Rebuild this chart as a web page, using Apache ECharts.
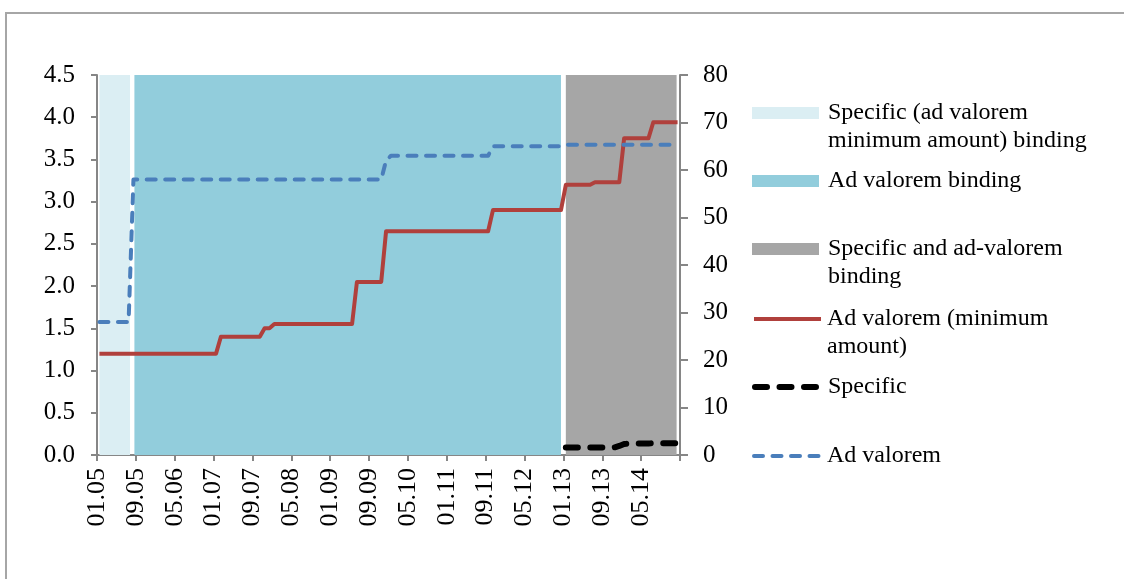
<!DOCTYPE html>
<html><head><meta charset="utf-8">
<script src="https://cdn.jsdelivr.net/npm/echarts@6/dist/echarts.min.js"></script>
<style>html,body{margin:0;padding:0;background:#fff}#c{width:1124px;height:579px}</style>
</head><body><div id="c"></div><script>
// ---- data ----
const xTickLabels = ['01.05','09.05','05.06','01.07','09.07','05.08','01.09','09.09','05.10','01.11','09.11','05.12','01.13','09.13','05.14'];
const bandNames = ['Specific (ad valorem minimum amount) binding','Ad valorem binding','Specific and ad-valorem binding'];
const bandStart = [0.5, 7.7, 96.5];   // months since 01.05
const bandEnd   = [6.8, 95.5, 119.3];
const lineNames = ['Ad valorem (minimum amount)','Specific','Ad valorem'];
// monthly values, Jan 2005 .. Dec 2014 (one row per year)
const adValoremMin = [
  1.2,1.2,1.2,1.2,1.2,1.2,1.2,1.2,1.2,1.2,1.2,1.2,
  1.2,1.2,1.2,1.2,1.2,1.2,1.2,1.2,1.2,1.2,1.2,1.2,
  1.2,1.4,1.4,1.4,1.4,1.4,1.4,1.4,1.4,1.4,1.5,1.5,
  1.55,1.55,1.55,1.55,1.55,1.55,1.55,1.55,1.55,1.55,1.55,1.55,
  1.55,1.55,1.55,1.55,1.55,2.05,2.05,2.05,2.05,2.05,2.05,2.65,
  2.65,2.65,2.65,2.65,2.65,2.65,2.65,2.65,2.65,2.65,2.65,2.65,
  2.65,2.65,2.65,2.65,2.65,2.65,2.65,2.65,2.65,2.9,2.9,2.9,
  2.9,2.9,2.9,2.9,2.9,2.9,2.9,2.9,2.9,2.9,2.9,2.9,
  3.2,3.2,3.2,3.2,3.2,3.2,3.23,3.23,3.23,3.23,3.23,3.23,
  3.75,3.75,3.75,3.75,3.75,3.75,3.94,3.94,3.94,3.94,3.94,3.94
];
const specific = [
  null,null,null,null,null,null,null,null,null,null,null,null,
  null,null,null,null,null,null,null,null,null,null,null,null,
  null,null,null,null,null,null,null,null,null,null,null,null,
  null,null,null,null,null,null,null,null,null,null,null,null,
  null,null,null,null,null,null,null,null,null,null,null,null,
  null,null,null,null,null,null,null,null,null,null,null,null,
  null,null,null,null,null,null,null,null,null,null,null,null,
  null,null,null,null,null,null,null,null,null,null,null,null,
  1.6,1.6,1.6,1.6,1.6,1.6,1.6,1.6,1.6,1.6,1.6,1.9,
  2.3,2.4,2.4,2.4,2.4,2.4,2.5,2.5,2.5,2.5,2.5,2.5
];
const adValorem = [
  28,28,28,28,28,28,28,58,58,58,58,58,
  58,58,58,58,58,58,58,58,58,58,58,58,
  58,58,58,58,58,58,58,58,58,58,58,58,
  58,58,58,58,58,58,58,58,58,58,58,58,
  58,58,58,58,58,58,58,58,58,58,58,62,
  63,63,63,63,63,63,63,63,63,63,63,63,
  63,63,63,63,63,63,63,63,63,65,65,65,
  65,65,65,65,65,65,65,65,65,65,65,65,
  65.3,65.3,65.3,65.3,65.3,65.3,65.3,65.3,65.3,65.3,65.3,65.3,
  65.3,65.3,65.3,65.3,65.3,65.3,65.3,65.3,65.3,65.3,65.3,65.3
];
const leftMax = 4.5, leftStep = 0.5, rightMax = 80, rightStep = 10, monthStep = 8, monthCount = 120;

// ---- styling ----
const FONT = 'Liberation Serif';
const bandColors = ['#dbeef3','#92cddc','#a6a6a6'];
const axisColor = '#868686';
const lineStyles = [
  {color: '#b0403c', width: 4, type: 'solid', cap: 'butt', join: 'round'},
  {color: '#000000', width: 6, type: [12, 12.5], cap: 'round', join: 'round'},
  {color: '#4a7ebb', width: 4, type: [9, 9.5], cap: 'round', join: 'round'}
];
const toPts = arr => arr.map((v, i) => [i + 0.5, v]);

const chart = echarts.init(document.getElementById('c'), null, {renderer: 'canvas'});

const bandSeries = bandNames.map((name, k) => ({
  name, type: 'custom', xAxisIndex: 0, yAxisIndex: 0, silent: true, z: 1,
  itemStyle: {color: bandColors[k]},
  encode: {x: [0, 1]},
  data: [[bandStart[k], bandEnd[k]]],
  renderItem: (params, api) => {
    const p0 = api.coord([api.value(0), leftMax]);
    const p1 = api.coord([api.value(1), 0]);
    return {type: 'rect', shape: {x: p0[0], y: p0[1], width: p1[0] - p0[0], height: p1[1] - p0[1]},
            style: {fill: bandColors[k]}};
  }
}));

const lineData = [adValoremMin, specific, adValorem];
const lineAxis = [0, 1, 1];
const lineSeries = lineNames.map((name, k) => ({
  name, type: 'line', yAxisIndex: lineAxis[k], data: toPts(lineData[k]), symbol: 'none',
  z: k === 1 ? 4 : 3, itemStyle: {color: lineStyles[k].color}, lineStyle: lineStyles[k]
}));

const allNames = bandNames.concat(lineNames);
const wrapped = {
  'Specific (ad valorem minimum amount) binding': 'Specific (ad valorem\nminimum amount) binding',
  'Specific and ad-valorem binding': 'Specific and ad-valorem\nbinding',
  'Ad valorem (minimum amount)': 'Ad valorem (minimum\namount)'
};
const legendCenters = [113, 181, 249, 319, 387, 456];
const legends = allNames.map((name, k) => {
  const two = !!wrapped[name];
  const lg = {
    data: [name], orient: 'vertical', left: 752, top: legendCenters[k] - (two ? 42 : 14),
    padding: 0, itemWidth: 67, itemHeight: 12, selectedMode: false,
    formatter: n => wrapped[n] ? '\n' + wrapped[n] : n,
    textStyle: {fontFamily: FONT, fontSize: 24, color: '#000', lineHeight: 28,
                padding: [0, 0, 0, k < 3 ? 4 : 1]}
  };
  if (k < 3) lg.icon = 'rect';
  else { lg.itemStyle = {opacity: 0}; lg.lineStyle = Object.assign({}, lineStyles[k - 3]); }
  return lg;
});

const option = {
  animation: false,
  backgroundColor: '#fff',
  textStyle: {fontFamily: FONT},
  graphic: [{type: 'rect', shape: {x: 6, y: 13, width: 1300, height: 800},
             style: {fill: 'none', stroke: '#a6a6a6', lineWidth: 2}, silent: true, z: -10}],
  grid: {left: 97, right: 444, top: 75, bottom: 124, containLabel: false},
  legend: legends,
  xAxis: {
    type: 'value', min: 0, max: monthCount, interval: monthStep,
    axisLine: {show: true, lineStyle: {color: axisColor, width: 2}},
    axisTick: {show: true, length: 6, lineStyle: {color: axisColor, width: 2}},
    splitLine: {show: false},
    axisLabel: {rotate: 90, margin: 13, fontFamily: FONT, fontSize: 26, color: '#000',
                showMaxLabel: true,
                formatter: v => xTickLabels[Math.round(v / monthStep)] || ''}
  },
  yAxis: [
    {type: 'value', position: 'left', min: 0, max: leftMax, interval: leftStep,
     axisLine: {show: true, lineStyle: {color: axisColor, width: 2}},
     axisTick: {show: true, length: 6, lineStyle: {color: axisColor, width: 2}},
     splitLine: {show: false},
     axisLabel: {margin: 22, fontFamily: FONT, fontSize: 25, color: '#000', formatter: v => v.toFixed(1)}},
    {type: 'value', position: 'right', min: 0, max: rightMax, interval: rightStep,
     axisLine: {show: true, lineStyle: {color: axisColor, width: 2}},
     axisTick: {show: true, length: 8, lineStyle: {color: axisColor, width: 2}},
     splitLine: {show: false},
     axisLabel: {margin: 23, fontFamily: FONT, fontSize: 25, color: '#000'}}
  ],
  series: bandSeries.concat(lineSeries)
};
chart.setOption(option);
</script></body></html>
